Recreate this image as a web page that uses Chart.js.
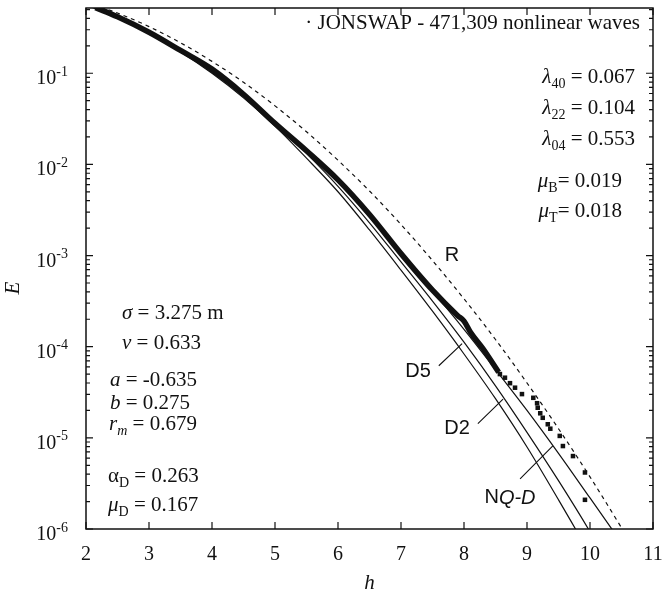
<!DOCTYPE html>
<html>
<head>
<meta charset="utf-8">
<script src="https://cdn.jsdelivr.net/npm/chart.js@4.4.0/dist/chart.umd.min.js"></script>
<style>
  body { margin: 0; background: #fff; }
  #wrap { width: 663px; height: 597px; }
</style>
</head>
<body>
<div id="wrap"><canvas id="myChart" width="663" height="597"></canvas></div>
<script>
// model curves, sampled on the same h grid
const hGrid = [2, 2.5, 3, 3.5, 4, 4.5, 5, 5.5, 6, 6.5, 7, 7.5, 8, 8.5, 9, 9.5, 10, 10.5, 11]
const eR   = [0.607, 0.458, 0.325, 0.216, 0.135, 0.0796, 0.0439, 0.0228, 0.0111, 0.00511, 0.00219, 0.000882, 0.000335, 0.000120, 0.0000400, 0.0000126, 0.00000373, 0.00000103, 0.00000027]
const eD5  = [0.562, 0.406, 0.274, 0.171, 0.0998, 0.0537, 0.0263, 0.0117, 0.00501, 0.00191, 0.000692, 0.000245, 0.0000832, 0.0000269, 0.00000794, 0.00000209, 0.000000525, 0.000000120]
const eD2  = [0.574, 0.420, 0.286, 0.182, 0.107, 0.0589, 0.0288, 0.0132, 0.00575, 0.00229, 0.000851, 0.000316, 0.000112, 0.0000372, 0.0000115, 0.00000339, 0.000000933, 0.000000229]
const eNQD = [0.569, 0.412, 0.279, 0.174, 0.102, 0.0570, 0.0295, 0.0141, 0.00646, 0.00269, 0.00105, 0.000407, 0.000155, 0.0000562, 0.0000200, 0.00000676, 0.00000219, 0.000000708]

// measured exceedance (dense part drawn as a thick band, tail as single squares)
const hData = [2.15, 2.5, 3, 3.5, 4, 4.5, 5, 5.5, 6, 6.5, 7, 7.5, 7.9, 8.0, 8.1, 8.3, 8.55]
const eData = [0.525, 0.417, 0.282, 0.178, 0.111, 0.0589, 0.0282, 0.0141, 0.00676, 0.00282, 0.00105, 0.000417, 0.000219, 0.000191, 0.000145, 0.0000955, 0.0000525]
const hTail = [8.57, 8.65, 8.73, 8.81, 8.92, 9.10, 9.16, 9.17, 9.21, 9.25, 9.33, 9.37, 9.52, 9.57, 9.73, 9.92, 9.92]
const eTail = [0.0000501, 0.0000457, 0.0000398, 0.0000355, 0.0000302, 0.0000275, 0.0000240, 0.0000214, 0.0000186, 0.0000166, 0.0000141, 0.0000126, 0.0000105, 0.00000813, 0.00000631, 0.00000417, 0.00000209]

const xTicks = [2, 3, 4, 5, 6, 7, 8, 9, 10, 11]
const yDecades = [-6, -5, -4, -3, -2, -1]

// curve labels and leader lines in data units [h, E]
const curveLabels = [
  { text: 'R', at: [7.81, 0.001] },
  { text: 'D5', at: [7.27, 0.0000531] },
  { text: 'D2', at: [7.89, 0.0000126] },
  { text: 'NQ-D', at: [8.73, 0.00000219] }
]
const leaders = [
  [[7.60, 0.0000618], [7.97, 0.000108]],
  [[8.22, 0.0000143], [8.62, 0.0000266]],
  [[8.89, 0.00000355], [9.41, 0.00000817]]
]

const serif = '"Liberation Serif", "Times New Roman", serif'
const sans = '"Liberation Sans", Arial, sans-serif'

function pts(xs, ys) {
  return ys.map((y, i) => ({ x: xs[i], y: y }))
}

// text made of pieces: [string, kind] kind = '' | 'i' | 'sub' | 'isub' | 'sup'
function pieceFont(kind, size) {
  const small = Math.round(size * 0.68)
  if (kind === 'i') return 'italic ' + size + 'px ' + serif
  if (kind === 'sub' || kind === 'sup') return small + 'px ' + serif
  if (kind === 'isub') return 'italic ' + small + 'px ' + serif
  return size + 'px ' + serif
}
function richText(ctx, parts, x, y, align, size) {
  let w = 0
  parts.forEach((p) => { ctx.font = pieceFont(p[1], size); w += ctx.measureText(p[0]).width })
  let cx = align === 'right' ? x - w : x
  ctx.textAlign = 'left'
  ctx.textBaseline = 'alphabetic'
  parts.forEach((p) => {
    ctx.font = pieceFont(p[1], size)
    let dy = 0
    if (p[1] === 'sub' || p[1] === 'isub') dy = size * 0.25
    if (p[1] === 'sup') dy = -size * 0.42
    ctx.fillText(p[0], cx, y + dy)
    cx += ctx.measureText(p[0]).width
  })
}

const decor = {
  id: 'decor',
  afterDatasetsDraw(chart) {
    const ctx = chart.ctx
    const a = chart.chartArea
    const xs = chart.scales.x
    const ys = chart.scales.y
    ctx.save()
    ctx.strokeStyle = '#111'
    ctx.fillStyle = '#111'
    ctx.lineWidth = 1.5
    ctx.strokeRect(a.left, a.top, a.right - a.left, a.bottom - a.top)

    // x ticks, inward, bottom and top
    ctx.lineWidth = 1.2
    ctx.beginPath()
    xTicks.forEach((v) => {
      const px = xs.getPixelForValue(v)
      ctx.moveTo(px, a.bottom); ctx.lineTo(px, a.bottom - 7)
      ctx.moveTo(px, a.top); ctx.lineTo(px, a.top + 7)
    })
    // y ticks, major and minor, both sides
    yDecades.forEach((d) => {
      for (let m = 1; m <= 9; m++) {
        const v = m * Math.pow(10, d)
        if (v > ys.max) break
        const py = ys.getPixelForValue(v)
        const len = m === 1 ? 7 : 4
        ctx.moveTo(a.left, py); ctx.lineTo(a.left + len, py)
        ctx.moveTo(a.right, py); ctx.lineTo(a.right - len, py)
      }
    })
    ctx.stroke()

    // tick labels
    ctx.font = '20px ' + serif
    ctx.textAlign = 'center'
    ctx.textBaseline = 'alphabetic'
    xTicks.forEach((v) => {
      ctx.fillText(String(v), xs.getPixelForValue(v), a.bottom + 31)
    })
    yDecades.forEach((d) => {
      const py = ys.getPixelForValue(Math.pow(10, d))
      richText(ctx, [['10', ''], [String(d), 'sup']], a.left - 18, py + 11, 'right', 20)
    })

    // axis titles
    ctx.font = 'italic 21px ' + serif
    ctx.textAlign = 'center'
    ctx.fillText('h', (a.left + a.right) / 2, a.bottom + 60)
    ctx.save()
    ctx.translate(19, 288)
    ctx.rotate(-Math.PI / 2)
    ctx.fillText('E', 0, 0)
    ctx.restore()

    // curve names and leaders
    ctx.lineWidth = 1.1
    ctx.beginPath()
    leaders.forEach((l) => {
      ctx.moveTo(xs.getPixelForValue(l[0][0]), ys.getPixelForValue(l[0][1]))
      ctx.lineTo(xs.getPixelForValue(l[1][0]), ys.getPixelForValue(l[1][1]))
    })
    ctx.stroke()
    ctx.textBaseline = 'middle'
    curveLabels.forEach((c) => {
      const px = xs.getPixelForValue(c.at[0])
      const py = ys.getPixelForValue(c.at[1])
      if (c.text === 'NQ-D') {
        ctx.font = '20px ' + sans
        const w1 = ctx.measureText('N').width
        ctx.font = 'italic 20px ' + sans
        const w2 = ctx.measureText('Q-D').width
        ctx.textAlign = 'left'
        ctx.font = '20px ' + sans
        ctx.fillText('N', px - (w1 + w2) / 2, py)
        ctx.font = 'italic 20px ' + sans
        ctx.fillText('Q-D', px - (w1 + w2) / 2 + w1, py)
      } else {
        ctx.font = '20px ' + sans
        ctx.textAlign = 'center'
        ctx.fillText(c.text, px, py)
      }
    })

    // parameter notes
    const R = a.right - 13
    richText(ctx, [['\u00b7 JONSWAP - 471,309 nonlinear waves', '']], R, 29, 'right', 21)
    richText(ctx, [['\u03bb', 'i'], ['40', 'sub'], [' = 0.067', '']], a.right - 18, 83, 'right', 21)
    richText(ctx, [['\u03bb', 'i'], ['22', 'sub'], [' = 0.104', '']], a.right - 18, 114, 'right', 21)
    richText(ctx, [['\u03bb', 'i'], ['04', 'sub'], [' = 0.553', '']], a.right - 18, 145, 'right', 21)
    richText(ctx, [['\u03bc', 'i'], ['B', 'sub'], ['= 0.019', '']], a.right - 31, 187, 'right', 21)
    richText(ctx, [['\u03bc', 'i'], ['T', 'sub'], ['= 0.018', '']], a.right - 31, 217, 'right', 21)

    const L = a.left
    richText(ctx, [['\u03c3', 'i'], [' = 3.275 m', '']], L + 36, 319, 'left', 21)
    richText(ctx, [['\u03bd', 'i'], [' = 0.633', '']], L + 36, 349, 'left', 21)
    richText(ctx, [['a', 'i'], [' = -0.635', '']], L + 24, 386, 'left', 21)
    richText(ctx, [['b', 'i'], [' = 0.275', '']], L + 24, 409, 'left', 21)
    richText(ctx, [['r', 'i'], ['m', 'isub'], [' = 0.679', '']], L + 23, 430, 'left', 21)
    richText(ctx, [['\u03b1', ''], ['D', 'sub'], [' = 0.263', '']], L + 22, 482, 'left', 21)
    richText(ctx, [['\u03bc', 'i'], ['D', 'sub'], [' = 0.167', '']], L + 22, 511, 'left', 21)
    ctx.restore()
  }
}

const ctx = document.getElementById('myChart')
const myChart = new Chart(ctx, {
  type: 'line',
  data: {
    datasets: [
      { label: 'data', data: pts(hData, eData), borderColor: '#111', borderWidth: 5.5, pointRadius: 0, cubicInterpolationMode: 'monotone' },
      { label: 'tail', data: pts(hTail, eTail), showLine: false, pointStyle: 'rect', pointRadius: 3.2, backgroundColor: '#111', borderColor: '#111', borderWidth: 0 },
      { label: 'NQ-D', data: pts(hGrid, eNQD), borderColor: '#111', borderWidth: 1.2, pointRadius: 0, cubicInterpolationMode: 'monotone' },
      { label: 'D2', data: pts(hGrid, eD2), borderColor: '#111', borderWidth: 1.2, pointRadius: 0, cubicInterpolationMode: 'monotone' },
      { label: 'D5', data: pts(hGrid, eD5), borderColor: '#111', borderWidth: 1.2, pointRadius: 0, cubicInterpolationMode: 'monotone' },
      { label: 'R', data: pts(hGrid, eR), borderColor: '#111', borderWidth: 1.2, borderDash: [4, 4], pointRadius: 0, cubicInterpolationMode: 'monotone' }
    ]
  },
  options: {
    responsive: false,
    animation: false,
    layout: { padding: { left: 86, right: 10, top: 8, bottom: 68 } },
    plugins: { legend: { display: false }, tooltip: { enabled: false } },
    scales: {
      x: { type: 'linear', min: 2, max: 11, display: false },
      y: { type: 'logarithmic', min: 0.000001, max: 0.52, display: false }
    }
  },
  plugins: [decor]
})
</script>
</body>
</html>
